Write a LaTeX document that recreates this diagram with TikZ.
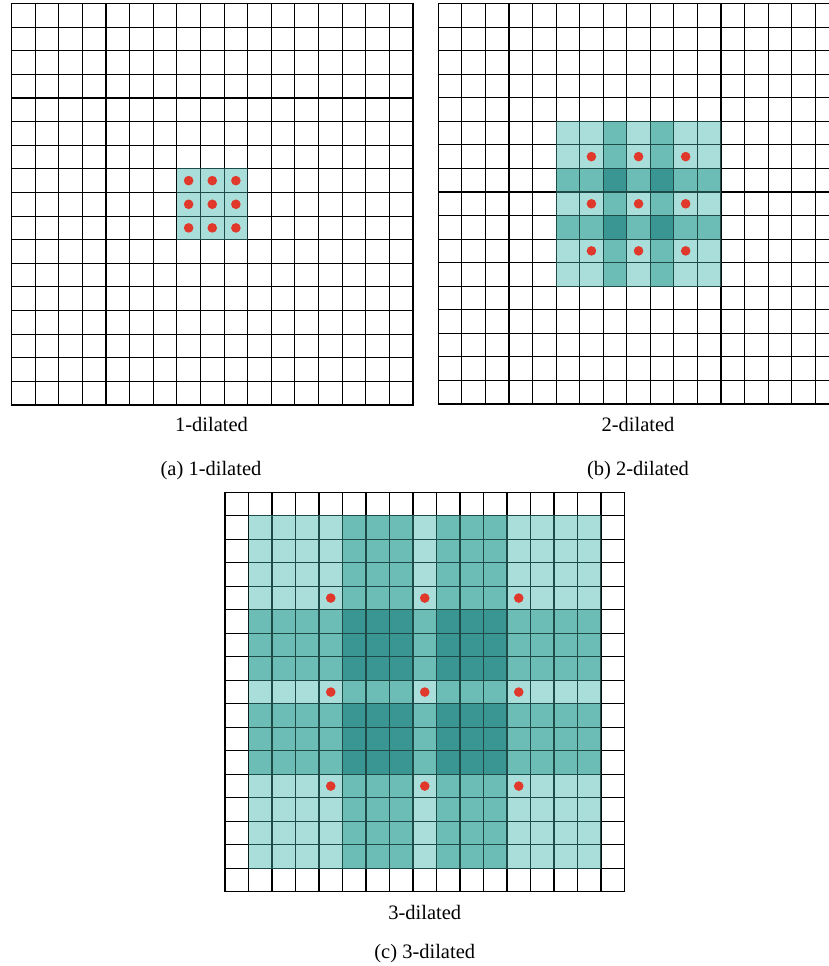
\documentclass[tikz,border=0pt]{standalone}
\usepackage{fontspec}
\setmainfont{Liberation Serif}
\definecolor{sh0}{HTML}{A9DEDB}
\definecolor{sh1}{HTML}{6DBDB7}
\definecolor{sh2}{HTML}{3A9692}
\definecolor{dotred}{HTML}{E0392C}
\definecolor{innerline}{HTML}{1E4A47}
\newcommand\dilgrid[4]{% x, y, cell, colour
  \foreach \k in {0,...,17}{%
    \draw[gridline,#4] ({#1+\k*#3},#2) -- ({#1+\k*#3},{#2+17*#3});
    \draw[gridline,#4] (#1,{#2+\k*#3}) -- ({#1+17*#3},{#2+\k*#3});
  }}
\begin{document}
\begin{tikzpicture}[x=1pt,y=-1pt,
  gridline/.style={line width=1.1pt,line cap=rect},
  reddot/.style={fill=dotred,draw=none},
  caption/.style={anchor=base,inner sep=0pt,font=\fontsize{20.5}{24}\selectfont}]
\useasboundingbox (0,0) rectangle (829,966);
\clip (0,0) rectangle (829,966);
\fill[white] (0,0) rectangle (829,966);

% ---------- panel (a)
\def\gx{11.5}\def\gy{3.5}\def\gs{23.62}
\fill[sh0] ({\gx+7*\gs},{\gy+7*\gs}) rectangle ({\gx+10*\gs},{\gy+10*\gs});
\dilgrid{\gx}{\gy}{\gs}{black}
\begin{scope}
  \clip ({\gx+7*\gs},{\gy+7*\gs}) rectangle ({\gx+10*\gs},{\gy+10*\gs});
  \dilgrid{\gx}{\gy}{\gs}{innerline}
\end{scope}
\foreach \i in {7,8,9}{\foreach \j in {7,8,9}{
  \fill[reddot] ({\gx+(\i+0.5)*\gs},{\gy+(\j+0.5)*\gs}) circle (4.8);
}}
\node[caption] (la) at (211.5,431.5) {1-dilated};
\node[caption] (ca) at (211,475) {(a) 1-dilated};

% ---------- panel (b)
\def\gx{438.3}\def\gy{3.5}\def\gs{23.56}
\foreach \i in {5,...,11}{\foreach \j in {5,...,11}{
  \pgfmathtruncatemacro\lv{(\i==7)+(\i==9)+(\j==7)+(\j==9)}
  \fill[sh\lv] ({\gx+\i*\gs},{\gy+\j*\gs}) rectangle ++(\gs,\gs);
}}
\dilgrid{\gx}{\gy}{\gs}{black}
\begin{scope}
  \clip ({\gx+5*\gs},{\gy+5*\gs}) rectangle ({\gx+12*\gs},{\gy+12*\gs});
  \dilgrid{\gx}{\gy}{\gs}{innerline}
\end{scope}
\foreach \i in {6,8,10}{\foreach \j in {6,8,10}{
  \fill[reddot] ({\gx+(\i+0.5)*\gs},{\gy+(\j+0.5)*\gs}) circle (4.8);
}}
\node[caption] (lb) at (638,431.5) {2-dilated};
\node[caption] (cb) at (638,475) {(b) 2-dilated};

% ---------- panel (c)
\def\gx{225}\def\gy{492.3}\def\gs{23.5}
\foreach \i in {1,...,15}{\foreach \j in {1,...,15}{
  \pgfmathtruncatemacro\lv{(\i>4)*(\i<12)*(\i!=8)+(\j>4)*(\j<12)*(\j!=8)}
  \fill[sh\lv] ({\gx+\i*\gs},{\gy+\j*\gs}) rectangle ++(\gs,\gs);
}}
\dilgrid{\gx}{\gy}{\gs}{black}
\begin{scope}
  \clip ({\gx+1*\gs},{\gy+1*\gs}) rectangle ({\gx+16*\gs},{\gy+16*\gs});
  \dilgrid{\gx}{\gy}{\gs}{innerline}
\end{scope}
\foreach \i in {4,8,12}{\foreach \j in {4,8,12}{
  \fill[reddot] ({\gx+(\i+0.5)*\gs},{\gy+(\j+0.5)*\gs}) circle (4.8);
}}
\node[caption] (lc) at (424.75,919) {3-dilated};
\node[caption] (cc) at (424.75,958) {(c) 3-dilated};
\end{tikzpicture}
\end{document}
